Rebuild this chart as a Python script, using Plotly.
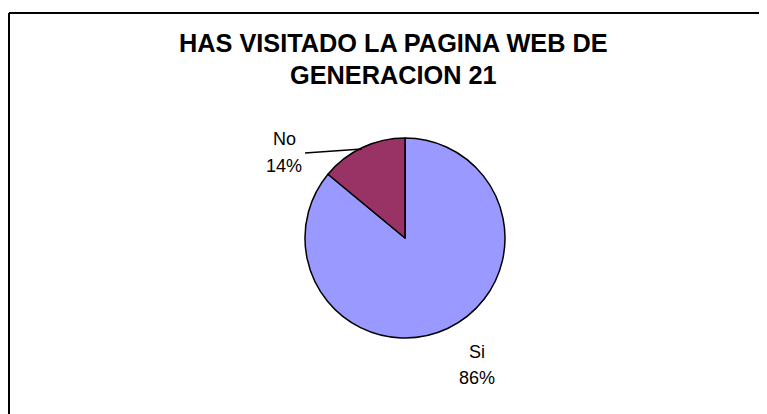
import plotly.graph_objects as go

W, H = 767, 414
OFF = 8  # page body margin offset

title_lines = ["HAS VISITADO LA PAGINA WEB DE", "GENERACION 21"]
labels = ["Si", "No"]
values = [86, 14]
colors = ["#9999FF", "#993366"]

def px(x):
    return (x - OFF) / W

def py(y):
    return 1 - (y - OFF) / H

fig = go.Figure()
fig.add_trace(go.Pie(
    labels=labels,
    values=values,
    sort=False,
    direction="clockwise",
    rotation=0,
    textinfo="none",
    hoverinfo="label+percent",
    marker=dict(colors=colors, line=dict(color="black", width=1.5)),
    domain=dict(x=[px(305), px(505)], y=[py(338), py(138)]),
    showlegend=False,
))

font_t = dict(family="Liberation Sans, Arial, sans-serif", size=25.3, color="black")
font_l = dict(family="Liberation Sans, Arial, sans-serif", size=18, color="black")

annotations = []
for text, yy in zip(title_lines, [43, 75]):
    annotations.append(dict(text=f"<b>{text}</b>", x=px(393), y=py(yy), xref="paper", yref="paper",
                            showarrow=False, font=font_t, xanchor="center", yanchor="middle"))

total = sum(values)
label_pos = {"Si": (477, 352, 378), "No": (284, 139, 166)}
for lab, val in zip(labels, values):
    cx, y1, y2 = label_pos[lab]
    pct = round(100 * val / total)
    annotations.append(dict(text=lab, x=px(cx), y=py(y1), xref="paper", yref="paper",
                            showarrow=False, font=font_l, xanchor="center", yanchor="middle"))
    annotations.append(dict(text=f"{pct}%", x=px(cx), y=py(y2), xref="paper", yref="paper",
                            showarrow=False, font=font_l, xanchor="center", yanchor="middle"))

border = dict(color="black", width=2)
shapes = [
    dict(type="line", xref="paper", yref="paper", x0=px(9), y0=py(13), x1=1.0, y1=py(13), line=border),
    dict(type="line", xref="paper", yref="paper", x0=px(9), y0=py(13), x1=px(9), y1=0.0, line=border),
    dict(type="line", xref="paper", yref="paper", x0=px(305), y0=py(153), x1=px(362), y1=py(149),
         line=dict(color="black", width=1.5)),
]

fig.update_layout(
    width=W, height=H,
    margin=dict(l=0, r=0, t=0, b=0),
    paper_bgcolor="white",
    plot_bgcolor="white",
    annotations=annotations,
    shapes=shapes,
)

fig.write_html("out.html")
